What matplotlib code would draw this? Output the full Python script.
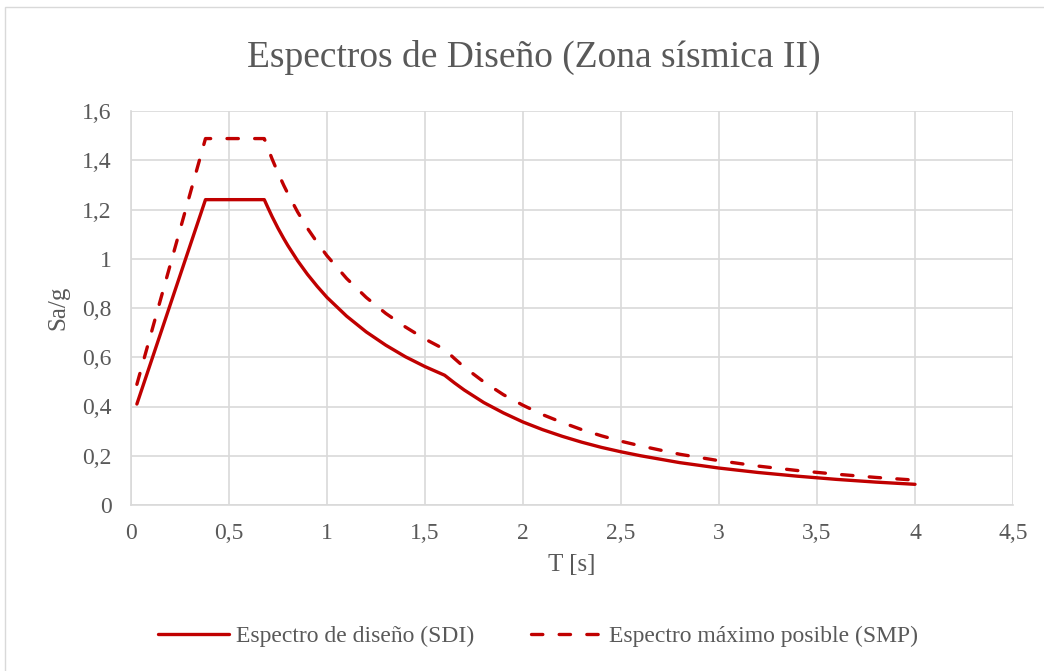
import matplotlib
matplotlib.use("Agg")
import matplotlib.pyplot as plt
from matplotlib.patches import Rectangle

# Period T [s]
periodo = [0.03, 0.38, 0.68, 0.70, 0.72, 0.75, 0.78, 0.80, 0.85, 0.90, 0.95, 1.0,
           1.1, 1.2, 1.3, 1.4, 1.5, 1.6, 1.65, 1.7, 1.8, 1.9, 2.0, 2.1, 2.2, 2.3,
           2.4, 2.5, 2.6, 2.8, 3.0, 3.2, 3.4, 3.6, 3.8, 4.0]

# Espectro de diseño (SDI), Sa/g
sdi = [0.41, 1.24, 1.24, 1.205, 1.171, 1.124, 1.081, 1.054, 0.992, 0.937, 0.888,
       0.843, 0.767, 0.703, 0.649, 0.602, 0.562, 0.527, 0.496, 0.467, 0.416,
       0.374, 0.337, 0.306, 0.279, 0.255, 0.234, 0.216, 0.200, 0.172, 0.150,
       0.132, 0.117, 0.104, 0.093, 0.084]

# Espectro máximo posible (SMP), Sa/g
smp = [0.49, 1.488, 1.488, 1.446, 1.405, 1.349, 1.297, 1.265, 1.190, 1.124, 1.066,
       1.012, 0.920, 0.843, 0.778, 0.723, 0.674, 0.632, 0.595, 0.560, 0.500,
       0.448, 0.405, 0.367, 0.335, 0.306, 0.281, 0.259, 0.240, 0.206, 0.180,
       0.158, 0.140, 0.125, 0.112, 0.101]

x_ticks = [0, 0.5, 1, 1.5, 2, 2.5, 3, 3.5, 4, 4.5]
y_ticks = [0, 0.2, 0.4, 0.6, 0.8, 1, 1.2, 1.4, 1.6]

titulo = "Espectros de Diseño (Zona sísmica II)"
etiqueta_x = "T [s]"
etiqueta_y = "Sa/g"
nombres = ["Espectro de diseño (SDI)", "Espectro máximo posible (SMP)"]

def fmt(v):
    s = f"{v:g}"
    return s.replace(".", ",")

plt.rcParams["font.family"] = ["Liberation Serif", "DejaVu Serif"]
texto = "#595959"
rojo = "#c00000"
rejilla = "#d9d9d9"

fig = plt.figure(figsize=(10.44, 6.71), dpi=100)
fig.patches.append(Rectangle((5 / 1044, -0.1), 1.2, 1.1 - 7 / 671,
                             transform=fig.transFigure, fill=False,
                             edgecolor="#d9d9d9", linewidth=1.0))

ax = fig.add_axes([131 / 1044, 1 - 505 / 671, (1013 - 131) / 1044, (505 - 111) / 671])
ax.set_xlim(0, 4.5)
ax.set_ylim(0, 1.6)
ax.set_xticks(x_ticks)
ax.set_yticks(y_ticks)
ax.set_xticklabels([fmt(v) for v in x_ticks])
ax.set_yticklabels([fmt(v) for v in y_ticks])
ax.grid(True, color=rejilla, linewidth=1.2)
ax.set_axisbelow(True)
for s in ["top", "right"]:
    ax.spines[s].set_visible(False)
for s in ["left", "bottom"]:
    ax.spines[s].set_color(rejilla)
    ax.spines[s].set_linewidth(1.2)
ax.tick_params(length=0, labelsize=17, colors=texto)
ax.tick_params(axis="x", pad=13)
ax.tick_params(axis="y", pad=14)

l1, = ax.plot(periodo, sdi, color=rojo, linewidth=2.4, solid_capstyle="round",
              solid_joinstyle="round", label=nombres[0])
l2, = ax.plot(periodo, smp, color=rojo, linewidth=2.4, linestyle=(0, (3.4, 4.9)),
              dash_capstyle="round", dash_joinstyle="round", label=nombres[1])

ax.set_xlabel(etiqueta_x, fontsize=18, color=texto, labelpad=7)
ax.set_ylabel(etiqueta_y, fontsize=18, color=texto, labelpad=9)

fig.text(534 / 1044, 1 - 57 / 671, titulo, ha="center", va="center",
         fontsize=27, color=texto)

fig.legend(handles=[l1, l2], loc="center", bbox_to_anchor=(538 / 1044, 1 - 636 / 671),
           ncol=2, frameon=False, fontsize=17, labelcolor=texto, handlelength=3.0,
           handletextpad=0.3, columnspacing=2.4)

fig.savefig("out.png", dpi=100)
